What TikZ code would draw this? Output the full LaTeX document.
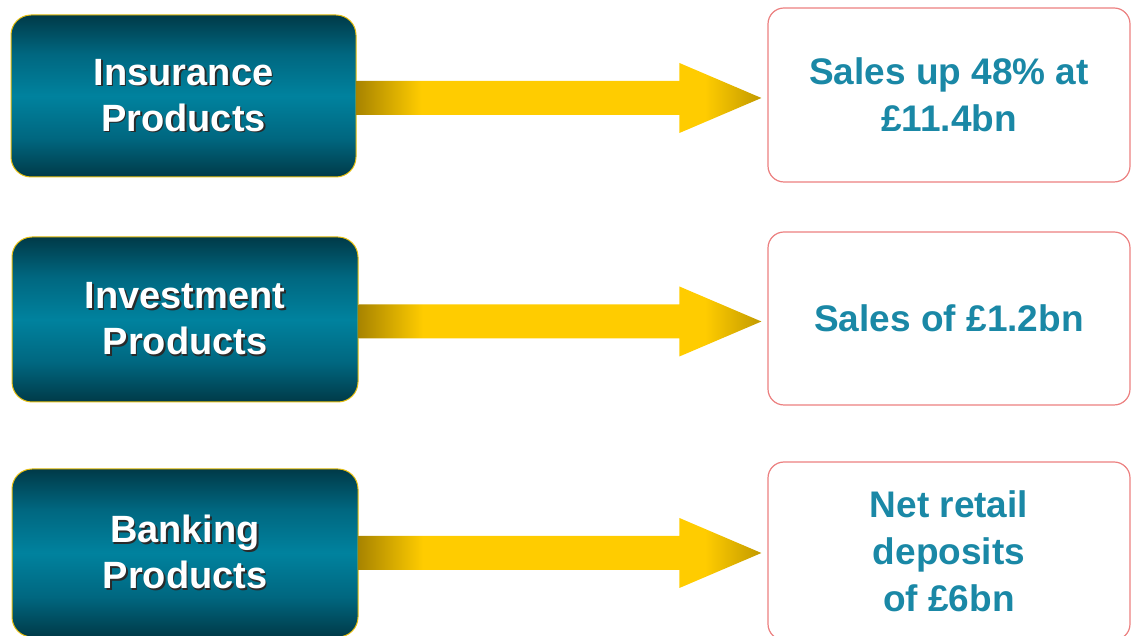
\documentclass[tikz,border=0pt]{standalone}
\usepackage{fontspec}
\setmainfont{Liberation Sans}
\usetikzlibrary{calc}
\definecolor{tdark}{HTML}{003A48}
\definecolor{tmid}{HTML}{006780}
\definecolor{tlight}{HTML}{00829E}
\definecolor{gdark}{HTML}{A88400}
\definecolor{gold}{HTML}{FFCC00}
\definecolor{gedge}{HTML}{E6BE10}
\definecolor{rborder}{HTML}{EC8080}
\definecolor{rtext}{HTML}{1A88A6}
\definecolor{shadowc}{HTML}{2A2A2A}
\pgfdeclareverticalshading{tealbar}{100bp}{color(0bp)=(tdark); color(25bp)=(tdark); color(37bp)=(tmid); color(50bp)=(tlight); color(63bp)=(tmid); color(75bp)=(tdark); color(100bp)=(tdark)}
\pgfdeclarehorizontalshading{goldbar}{100bp}{color(0bp)=(gdark); color(25bp)=(gdark); color(33bp)=(gold); color(68bp)=(gold); color(75bp)=(gdark!70!gold); color(100bp)=(gdark!70!gold)}
\newcommand{\shl}[1]{\leavevmode\rlap{\raisebox{-1.6pt}{\hspace{1.6pt}\textcolor{shadowc}{#1}}}#1}
\tikzset{
  x=1pt, y=1pt,
  prodbox/.style={draw=gedge, line width=1pt, rounded corners=20pt, shading=tealbar,
    minimum width=345pt, inner sep=0pt, text=white, align=center,
    font=\fontsize{38}{46}\selectfont\bfseries},
  resbox/.style={draw=rborder, line width=1.2pt, fill=white, rounded corners=16pt,
    minimum width=362pt, inner sep=0pt, text=rtext, align=center,
    font=\fontsize{37}{47}\selectfont\bfseries},
  goldarrow/.style={shading=goldbar, draw=none}
}
\begin{document}
\begin{tikzpicture}
\useasboundingbox (0,0) rectangle (1131,636);
% left boxes
\node[prodbox, minimum height=162pt] (l1) at (183.5,540) {\shl{Insurance}\\\shl{Products}};
\node[prodbox, minimum height=165pt, minimum width=346pt] (l2) at (185,316.5) {\shl{Investment}\\\shl{Products}};
\node[prodbox, minimum height=168pt, minimum width=346pt] (l3) at (185,83) {\shl{Banking}\\\shl{Products}};
% right boxes
\node[resbox, minimum height=174pt] (r1) at (949,541) {Sales up 48\% at\\£11.4bn};
\node[resbox, minimum height=173pt] (r2) at (949,317.5) {Sales of £1.2bn};
\node[resbox, minimum height=178pt] (r3) at (949,85) {Net retail\\deposits\\of £6bn};
% arrows
\foreach \a/\b/\dy in {l1/r1/-2, l2/r2/-2, l3/r3/0}{
  \path[goldarrow] let \p1=(\a.east), \p2=(\b.west) in
    (\x1,\y1+\dy+17) -- (\x2-88,\y1+\dy+17) -- (\x2-88,\y1+\dy+35) -- (\x2-6,\y1+\dy)
    -- (\x2-88,\y1+\dy-35) -- (\x2-88,\y1+\dy-17) -- (\x1,\y1+\dy-17) -- cycle;
}
\end{tikzpicture}
\end{document}
